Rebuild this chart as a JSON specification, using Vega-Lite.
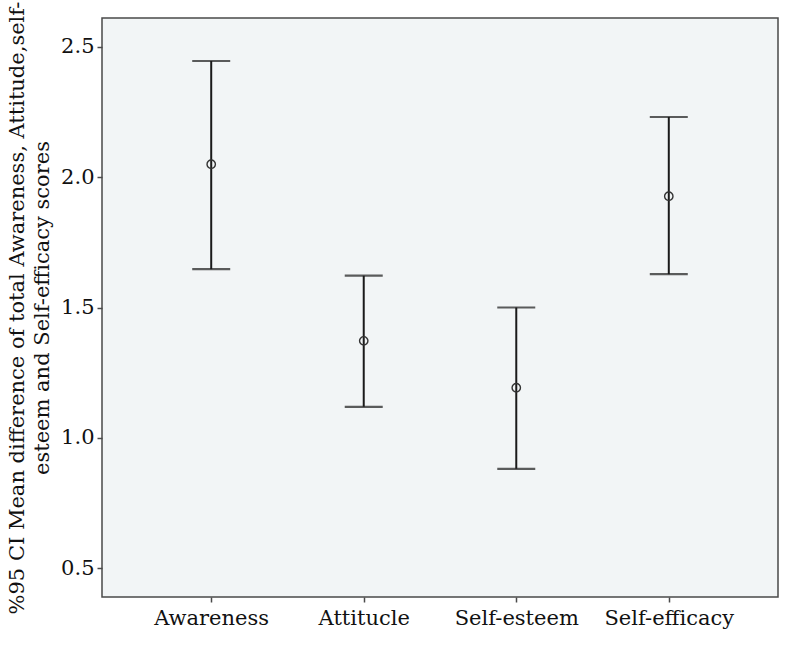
{
  "$schema": "https://vega.github.io/schema/vega-lite/v6.json",
  "width": 676,
  "height": 579,
  "autosize": "none",
  "padding": {"left": 102, "top": 18, "right": 16, "bottom": 50},
  "background": "white",
  "config": {
    "font": "DejaVu Serif",
    "view": {"fill": "#f2f5f6", "stroke": "#4a4a4a", "strokeWidth": 1.5},
    "axis": {
      "labelFont": "DejaVu Serif",
      "titleFont": "DejaVu Serif",
      "labelFontSize": 21,
      "titleFontSize": 21,
      "labelColor": "#111",
      "titleColor": "#111",
      "titleFontWeight": "normal",
      "domain": false,
      "grid": false,
      "tickColor": "#4a4a4a",
      "tickSize": 5,
      "tickWidth": 1.5
    }
  },
  "data": {
    "values": [
      {"measure": "Awareness", "mean": 2.05, "lower": 1.647, "upper": 2.446},
      {"measure": "Attitucle", "mean": 1.372, "lower": 1.119, "upper": 1.622},
      {"measure": "Self-esteem", "mean": 1.192, "lower": 0.881, "upper": 1.5},
      {"measure": "Self-efficacy", "mean": 1.927, "lower": 1.628, "upper": 2.231}
    ]
  },
  "encoding": {
    "x": {
      "field": "measure",
      "type": "nominal",
      "sort": null,
      "scale": {"type": "point", "padding": 0.716},
      "axis": {"title": null, "labelAngle": 0, "labelPadding": 5}
    }
  },
  "layer": [
    {
      "mark": {"type": "rule", "color": "#1a1a1a", "strokeWidth": 2},
      "encoding": {
        "y": {
          "field": "lower",
          "type": "quantitative",
          "scale": {"domain": [0.389, 2.611], "nice": false, "zero": false},
          "axis": {
            "values": [0.5, 1.0, 1.5, 2.0, 2.5],
            "format": ".1f",
            "labelPadding": 3,
            "title": ["%95 CI Mean difference of total Awareness, Attitude,self-", "esteem and Self-efficacy scores"],
            "titleLineHeight": 25,
            "titlePadding": 8
          }
        },
        "y2": {"field": "upper"}
      }
    },
    {
      "mark": {"type": "tick", "color": "#1a1a1a", "size": 38, "thickness": 2.2, "orient": "horizontal"},
      "encoding": {"y": {"field": "lower", "type": "quantitative"}}
    },
    {
      "mark": {"type": "tick", "color": "#1a1a1a", "size": 38, "thickness": 2.2, "orient": "horizontal"},
      "encoding": {"y": {"field": "upper", "type": "quantitative"}}
    },
    {
      "mark": {"type": "point", "shape": "circle", "filled": false, "size": 70, "stroke": "#333", "strokeWidth": 1.4, "opacity": 1},
      "encoding": {"y": {"field": "mean", "type": "quantitative"}}
    }
  ]
}
